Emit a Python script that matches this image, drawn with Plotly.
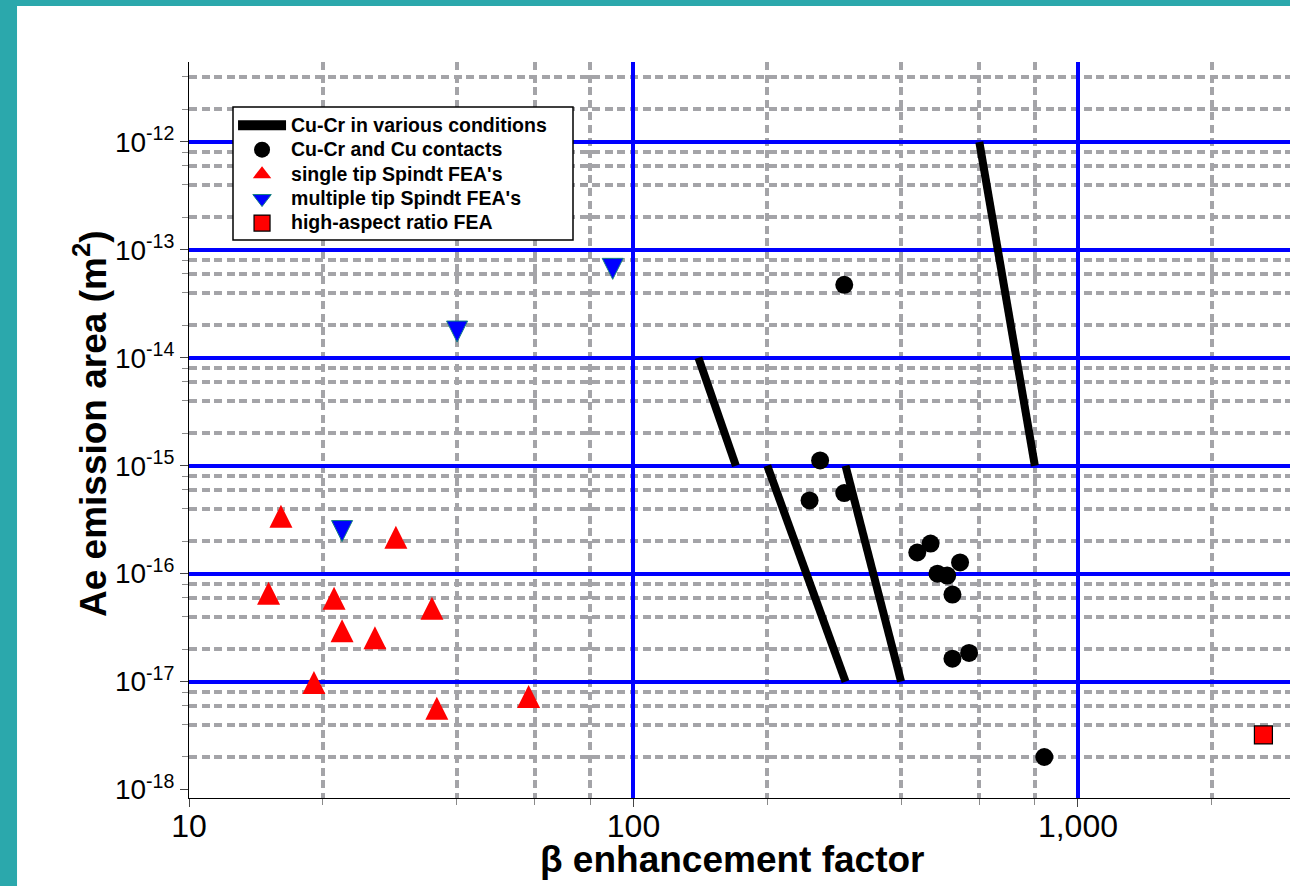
import numpy as np
import plotly.graph_objects as go

# ---- data -------------------------------------------------------------
# Cu-Cr in various conditions: straight segments in log-log space (None breaks)
cucr_beta = [140, 170, None, 200, 300, None, 300, 400, None, 600, 800]
cucr_area = [1e-14, 1e-15, None, 1e-15, 1e-17, None, 1e-15, 1e-17, None, 1e-12, 1e-15]

# Cu-Cr and Cu contacts
contact_beta = [263, 249, 298, 435, 466, 543, 483, 508, 522, 522, 569, 298, 840]
contact_area = [1.12e-15, 4.77e-16, 5.58e-16, 1.57e-16, 1.90e-16, 1.27e-16,
                1.0e-16, 9.6e-17, 6.4e-17, 1.63e-17, 1.84e-17, 4.74e-14, 2.0e-18]

# single tip Spindt FEA's
single_beta = [16.1, 29.2, 15.1, 21.2, 35.2, 22.1, 26.2, 19.1, 36.1, 58.1]
single_area = [3.4e-16, 2.17e-16, 6.57e-17, 5.9e-17, 4.77e-17, 2.95e-17,
               2.55e-17, 9.8e-18, 5.66e-18, 7.27e-18]

# multiple tip Spindt FEA's
multi_beta = [22.1, 40.1, 89.8]
multi_area = [2.48e-16, 1.75e-14, 6.67e-14]

# high-aspect ratio FEA
hiar_beta = [2614]
hiar_area = [3.2e-18]

series_names = ["Cu-Cr in various conditions", "Cu-Cr and Cu contacts",
                "single tip Spindt FEA's", "multiple tip Spindt FEA's",
                "high-aspect ratio FEA"]

# axis ticks
x_major = [100, 1000]
x_major_text = ["100", "1,000"]
x_first = [10]
x_first_text = ["10"]
x_minor = [20, 40, 60, 80, 200, 400, 600, 800, 2000]

y_exponents = [-17, -16, -15, -14, -13, -12]
y_major = [10.0 ** e for e in y_exponents]
y_major_text = ["10<sup>%d</sup>" % e for e in y_exponents]
y_first = [1e-18]
y_first_text = ["10<sup>-18</sup>"]
y_minor = [m * 10.0 ** e for e in range(-18, -11) for m in (2, 4, 6, 8)
           if m * 10.0 ** e < 5e-12]

X_RANGE = [1, np.log10(3000)]
Y_RANGE = [-18.079, -11.259]

FONT = "Liberation Sans, Arial, sans-serif"
BLUE_GRID = "#0000FF"
GREY_GRID = "#A4A4A8"
TEAL = "#2BA8AC"
RED = "#FF0000"
BLUE = "#0000FF"


def key_name(text):
    # legend label drawn a little larger than the row height implies
    return "<span style='font-size:19.5px'>%s</span>" % text


fig = go.Figure()

# --- Cu-Cr lines
fig.add_trace(go.Scatter(
    x=cucr_beta, y=cucr_area, mode="lines", showlegend=False,
    line=dict(color="black", width=8), connectgaps=False))
fig.add_trace(go.Scatter(
    x=[None], y=[None], mode="lines", name=key_name(series_names[0]),
    line=dict(color="black", width=10)))

# --- contacts
fig.add_trace(go.Scatter(
    x=contact_beta, y=contact_area, mode="markers", name=key_name(series_names[1]),
    marker=dict(symbol="circle", size=18, color="black", line=dict(width=0))))

# --- single tip: up-pointing triangle centred on its point (arrow turned over)
fig.add_trace(go.Scatter(
    x=single_beta, y=single_area, mode="markers", showlegend=False,
    marker=dict(symbol="arrow-down", angle=180, standoff=11.5, size=23,
                color=RED, line=dict(width=0))))
fig.add_trace(go.Scatter(
    x=[None], y=[None], mode="markers", name=key_name(series_names[2]),
    marker=dict(symbol="triangle-up", size=16, color=RED, line=dict(width=0))))

# --- multiple tip: down-pointing triangle centred on its point
fig.add_trace(go.Scatter(
    x=multi_beta, y=multi_area, mode="markers", showlegend=False,
    marker=dict(symbol="arrow-down", angle=0, standoff=10.5, size=21,
                color=BLUE, line=dict(width=1, color="#138080"))))
fig.add_trace(go.Scatter(
    x=[None], y=[None], mode="markers", name=key_name(series_names[3]),
    marker=dict(symbol="triangle-down", size=16, color=BLUE,
                line=dict(width=1, color="#138080"))))

# --- high-aspect ratio
fig.add_trace(go.Scatter(
    x=hiar_beta, y=hiar_area, mode="markers", name=key_name(series_names[4]),
    marker=dict(symbol="square", size=18, color=RED,
                line=dict(width=1.2, color="black"))))

# companion axes carrying the first tick of each axis without a grid line
fig.add_trace(go.Scatter(x=[None], y=[None], xaxis="x2", yaxis="y2",
                         showlegend=False, hoverinfo="skip"))

common_minor = dict(tickmode="array", showgrid=True, gridcolor=GREY_GRID,
                    gridwidth=3.5, griddash="8px,4.6px", ticks="outside",
                    ticklen=6, tickwidth=1, tickcolor="#8a8a8a")

fig.update_layout(
    width=1290, height=886,
    margin=dict(l=189, r=0, t=62, b=88),
    paper_bgcolor=TEAL, plot_bgcolor="white",
    font=dict(family=FONT, color="black"),
    showlegend=True,
    xaxis=dict(type="log", range=X_RANGE, autorange=False,
               tickmode="array", tickvals=x_major, ticktext=x_major_text,
               showgrid=True, gridcolor=BLUE_GRID, gridwidth=4,
               showline=True, linecolor="black", linewidth=1,
               ticks="outside", ticklen=8, tickcolor="#444", tickwidth=1,
               ticklabelstandoff=-8,
               tickfont=dict(size=32, family=FONT), zeroline=False,
               minor=dict(tickvals=x_minor, **common_minor)),
    yaxis=dict(type="log", range=Y_RANGE, autorange=False,
               tickmode="array", tickvals=y_major, ticktext=y_major_text,
               showgrid=True, gridcolor=BLUE_GRID, gridwidth=4,
               showline=True, linecolor="black", linewidth=1,
               ticks="outside", ticklen=8, tickcolor="#444", tickwidth=1,
               tickfont=dict(size=28, family=FONT), zeroline=False,
               minor=dict(tickvals=y_minor, **common_minor)),
    xaxis2=dict(type="log", range=X_RANGE, autorange=False, overlaying="x",
                anchor="y2", tickmode="array", tickvals=x_first,
                ticktext=x_first_text, showgrid=False, showline=False,
                ticks="outside", ticklen=8, tickcolor="#444",
                ticklabelstandoff=-8,
                tickfont=dict(size=32, family=FONT), zeroline=False),
    yaxis2=dict(type="log", range=Y_RANGE, autorange=False, overlaying="y",
                anchor="x2", tickmode="array", tickvals=y_first,
                ticktext=y_first_text, showgrid=False, showline=False,
                ticks="outside", ticklen=8, tickcolor="#444",
                tickfont=dict(size=28, family=FONT), zeroline=False),
    legend=dict(x=0.040, y=0.9375, xanchor="left", yanchor="top",
                bgcolor="rgba(0,0,0,0)", borderwidth=0,
                font=dict(size=16.5, family=FONT, color="black", weight="bold"),
                itemwidth=48, tracegroupgap=0),
    shapes=[
        # white page inside the teal frame
        dict(type="rect", xref="paper", yref="paper", layer="below",
             x0=-0.1562, x1=1.01, y0=-0.13, y1=1.0761,
             fillcolor="white", line=dict(width=0)),
        # legend box
        dict(type="rect", xref="paper", yref="paper", layer="above",
             x0=(233 - 189) / 1101, x1=(573 - 189) / 1101,
             y0=(798 - 240) / 736, y1=(798 - 107) / 736,
             fillcolor="white", line=dict(color="black", width=1.5)),
    ],
    annotations=[
        dict(text="<b>β enhancement factor</b>", xref="paper", yref="paper",
             x=0.493, y=(798 - 859) / 736, xanchor="center", yanchor="middle",
             showarrow=False, font=dict(size=37, family=FONT)),
        dict(text="<b>Ae emission area (m<sup>2</sup>)</b>", xref="paper",
             yref="paper", x=(90 - 189) / 1101, y=(798 - 424) / 736,
             xanchor="center", yanchor="middle", textangle=-90,
             showarrow=False, font=dict(size=37, family=FONT)),
    ],
)

fig.write_html("out.html")
